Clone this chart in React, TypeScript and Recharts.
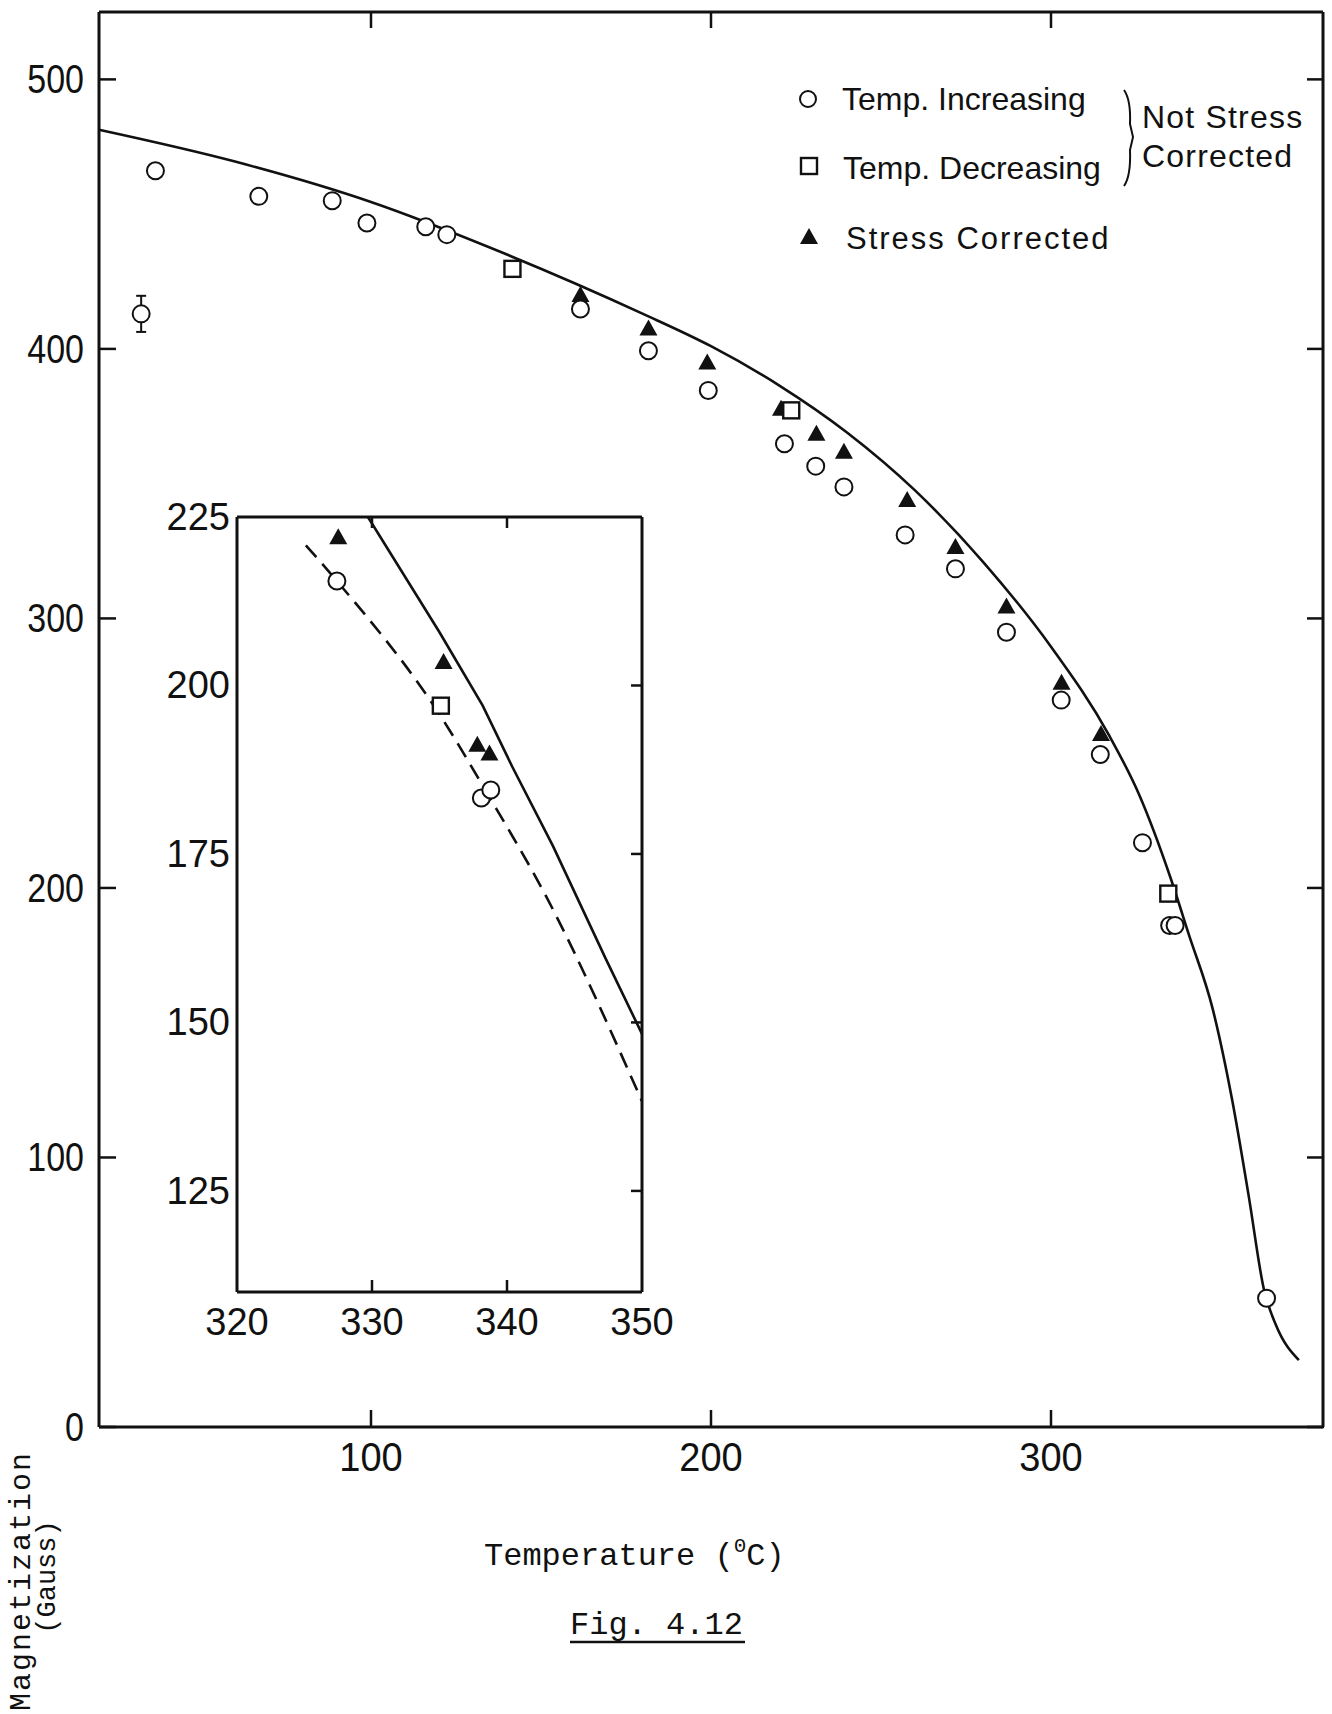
import React from 'react';
import { ComposedChart, Line, Scatter, XAxis, YAxis, ErrorBar } from 'recharts';

// main plot values (Temperature in C, Magnetization in Gauss)
const mainTicksX = [100, 200, 300];
const mainTicksY = [0, 100, 200, 300, 400, 500];

const tempIncreasing = [
  { t: 32.4, m: 413, err: 6.7 },
  { t: 36.6, m: 466.1, err: 0 },
  { t: 67.0, m: 456.6, err: 0 },
  { t: 88.6, m: 455.0, err: 0 },
  { t: 98.8, m: 446.7, err: 0 },
  { t: 116.1, m: 445.3, err: 0 },
  { t: 122.3, m: 442.4, err: 0 },
  { t: 161.6, m: 414.8, err: 0 },
  { t: 181.6, m: 399.3, err: 0 },
  { t: 199.2, m: 384.6, err: 0 },
  { t: 221.6, m: 364.8, err: 0 },
  { t: 230.8, m: 356.5, err: 0 },
  { t: 239.1, m: 348.8, err: 0 },
  { t: 257.1, m: 331.0, err: 0 },
  { t: 271.9, m: 318.4, err: 0 },
  { t: 286.9, m: 294.9, err: 0 },
  { t: 303.0, m: 269.7, err: 0 },
  { t: 314.5, m: 249.5, err: 0 },
  { t: 326.9, m: 216.8, err: 0 },
  { t: 334.9, m: 186.1, err: 0 },
  { t: 336.5, m: 186.1, err: 0 },
  { t: 363.4, m: 47.8, err: 0 },
];

const tempDecreasing = [
  { t: 141.6, m: 429.7 },
  { t: 223.6, m: 377.2 },
  { t: 334.5, m: 197.9 },
];

const stressCorrected = [
  { t: 161.6, m: 420.0 },
  { t: 181.6, m: 407.6 },
  { t: 198.9, m: 395.0 },
  { t: 220.6, m: 377.8 },
  { t: 231.0, m: 368.5 },
  { t: 239.1, m: 361.8 },
  { t: 257.7, m: 343.9 },
  { t: 271.9, m: 326.5 },
  { t: 286.9, m: 304.4 },
  { t: 303.1, m: 276.1 },
  { t: 314.7, m: 257.1 },
];

const fitCurve = [
  { t: 20, m: 481.3 },
  { t: 60, m: 469.5 },
  { t: 100, m: 454.5 },
  { t: 140, m: 435 },
  { t: 180, m: 413 },
  { t: 200, m: 401 },
  { t: 220, m: 386.5 },
  { t: 240, m: 369 },
  { t: 260, m: 347.5 },
  { t: 280, m: 321 },
  { t: 300, m: 289.5 },
  { t: 317.1, m: 256.6 },
  { t: 325.9, m: 234.7 },
  { t: 335.2, m: 203.6 },
  { t: 340.6, m: 182.5 },
  { t: 347.5, m: 155.4 },
  { t: 353.3, m: 121.2 },
  { t: 358.2, m: 85.3 },
  { t: 362.6, m: 51.2 },
  { t: 366.1, m: 38 },
  { t: 372.9, m: 24.8 },
];

// inset (enlarged view near the Curie point)
const insetTicksX = [320, 330, 340, 350];
const insetTicksY = [125, 150, 175, 200, 225];

const insetIncreasing = [
  { t: 327.4, m: 215.5 },
  { t: 338.1, m: 183.3 },
  { t: 338.8, m: 184.5 },
];
const insetDecreasing = [{ t: 335.1, m: 197.0 }];
const insetCorrected = [
  { t: 327.5, m: 222.0 },
  { t: 335.3, m: 203.5 },
  { t: 337.8, m: 191.2 },
  { t: 338.7, m: 189.9 },
];
const insetSolid = [
  { t: 329.7, m: 225 },
  { t: 335.0, m: 207.9 },
  { t: 338.2, m: 197.0 },
  { t: 340.4, m: 187.9 },
  { t: 343.4, m: 176.2 },
  { t: 347.3, m: 159.5 },
  { t: 350, m: 148.3 },
];
const insetDashed = [
  { t: 325.1, m: 220.8 },
  { t: 327.4, m: 215.5 },
  { t: 335.1, m: 195.4 },
  { t: 338.5, m: 184.1 },
  { t: 342.9, m: 168.7 },
  { t: 350, m: 138.3 },
];

const INK = '#111';
const sans = "'Liberation Sans', Arial, sans-serif";
const mono = "'Liberation Mono', 'DejaVu Sans Mono', monospace";

// layout of the two charts
const MAIN = { w: 1332, h: 1714, top: 11, right: 8, left: 9, bottom: 227, yw: 90, xh: 60 };
const MAIN_PW = MAIN.w - MAIN.left - MAIN.yw - MAIN.right;
const MAIN_PH = MAIN.h - MAIN.top - MAIN.bottom - MAIN.xh;
const INSET = { w: 580, h: 880, top: 26, right: 87, left: 7, bottom: 18, yw: 80, xh: 60 };
const INSET_PW = INSET.w - INSET.left - INSET.yw - INSET.right;
const INSET_PH = INSET.h - INSET.top - INSET.bottom - INSET.xh;

const OpenCircle = (p: any) => (
  <circle cx={p.cx} cy={p.cy} r={8.5} fill="#fff" stroke={INK} strokeWidth={2} />
);
const OpenSquare = (p: any) => (
  <rect x={p.cx - 8} y={p.cy - 8} width={16} height={16} fill="#fff" stroke={INK} strokeWidth={2.4} />
);
const Triangle = (p: any) => (
  <polygon
    points={`${p.cx},${p.cy - 9} ${p.cx - 9},${p.cy + 7} ${p.cx + 9},${p.cy + 7}`}
    fill={INK}
  />
);

type TickOpts = {
  len: number; // inward tick on the labelled side
  far: number; // distance to the opposite side of the frame
  farLen: number; // inward tick on the opposite side
  gap: number;
  size: number;
  squeeze?: number;
  lines?: number[];
};

const TickText = ({ x, y, anchor, size, squeeze, children }: any) => (
  <text
    transform={`translate(${x} ${y}) scale(${squeeze ?? 1} 1)`}
    textAnchor={anchor}
    dominantBaseline="central"
    fontFamily={sans}
    fontSize={size}
    fill={INK}
  >
    {children}
  </text>
);

// ticks point inward on both sides of the frame, labels sit outside
const makeTick = (side: 'bottom' | 'left', o: TickOpts) => (p: any) => {
  const { x, y, payload } = p;
  const v = payload.value;
  const showLine = !o.lines || o.lines.includes(v);
  const sw = 2.5;
  if (side === 'bottom') {
    return (
      <g>
        {showLine && o.len > 0 && <line x1={x} y1={y} x2={x} y2={y - o.len} stroke={INK} strokeWidth={sw} />}
        {showLine && o.farLen > 0 && (
          <line x1={x} y1={y - o.far} x2={x} y2={y - o.far + o.farLen} stroke={INK} strokeWidth={sw} />
        )}
        <TickText x={x} y={y + o.gap} anchor="middle" size={o.size} squeeze={o.squeeze}>
          {v}
        </TickText>
      </g>
    );
  }
  return (
    <g>
      {showLine && o.len > 0 && <line x1={x} y1={y} x2={x + o.len} y2={y} stroke={INK} strokeWidth={sw} />}
      {showLine && o.farLen > 0 && (
        <line x1={x + o.far} y1={y} x2={x + o.far - o.farLen} y2={y} stroke={INK} strokeWidth={sw} />
      )}
      <TickText x={x - o.gap} y={y} anchor="end" size={o.size} squeeze={o.squeeze}>
        {v}
      </TickText>
    </g>
  );
};

const frameLine = { stroke: INK, strokeWidth: 3 };

const MainChart = () => (
  <ComposedChart
    width={MAIN.w}
    height={MAIN.h}
    margin={{ top: MAIN.top, right: MAIN.right, left: MAIN.left, bottom: MAIN.bottom }}
  >
    <XAxis
      dataKey="t"
      type="number"
      domain={[20, 380]}
      ticks={mainTicksX}
      interval={0}
      height={MAIN.xh}
      tickSize={0}
      tickMargin={0}
      tickLine={false}
      axisLine={frameLine}
      tick={makeTick('bottom', { len: 17, far: MAIN_PH, farLen: 17, gap: 30, size: 40, squeeze: 0.95 })}
    />
    <XAxis xAxisId="top" orientation="top" type="number" domain={[20, 380]} height={1} tick={false} tickLine={false} axisLine={frameLine} />
    <YAxis
      dataKey="m"
      type="number"
      domain={[0, 525]}
      ticks={mainTicksY}
      interval={0}
      width={MAIN.yw}
      tickSize={0}
      tickMargin={0}
      tickLine={false}
      axisLine={frameLine}
      tick={makeTick('left', { len: 17, far: MAIN_PW, farLen: 17, gap: 15, size: 40, squeeze: 0.85 })}
    />
    <YAxis yAxisId="right" orientation="right" type="number" domain={[0, 525]} width={1} tick={false} tickLine={false} axisLine={frameLine} />
    <Line
      data={fitCurve}
      dataKey="m"
      type="monotone"
      stroke={INK}
      strokeWidth={2.6}
      dot={false}
      activeDot={false}
      isAnimationActive={false}
    />
    <Scatter data={stressCorrected} dataKey="m" shape={Triangle} isAnimationActive={false} />
    <Scatter data={tempIncreasing} dataKey="m" shape={OpenCircle} isAnimationActive={false}>
      <ErrorBar dataKey="err" direction="y" width={5} stroke={INK} strokeWidth={2} />
    </Scatter>
    <Scatter data={tempDecreasing} dataKey="m" shape={OpenSquare} isAnimationActive={false} />
  </ComposedChart>
);

const InsetChart = () => (
  <ComposedChart
    width={INSET.w}
    height={INSET.h}
    margin={{ top: INSET.top, right: INSET.right, left: INSET.left, bottom: INSET.bottom }}
  >
    <XAxis
      dataKey="t"
      type="number"
      domain={[320, 350]}
      ticks={insetTicksX}
      interval={0}
      height={INSET.xh}
      tickSize={0}
      tickMargin={0}
      tickLine={false}
      axisLine={frameLine}
      tick={makeTick('bottom', { len: 12, far: INSET_PH, farLen: 12, gap: 30, size: 38, lines: [330, 340] })}
    />
    <XAxis xAxisId="top" orientation="top" type="number" domain={[320, 350]} height={1} tick={false} tickLine={false} axisLine={frameLine} />
    <YAxis
      dataKey="m"
      type="number"
      domain={[110, 225]}
      ticks={insetTicksY}
      interval={0}
      width={INSET.yw}
      tickSize={0}
      tickMargin={0}
      tickLine={false}
      allowDataOverflow
      axisLine={frameLine}
      tick={makeTick('left', { len: 0, far: INSET_PW, farLen: 12, gap: 7, size: 38, lines: [125, 150, 175, 200] })}
    />
    <YAxis yAxisId="right" orientation="right" type="number" domain={[110, 225]} width={1} tick={false} tickLine={false} axisLine={frameLine} />
    <Line
      data={insetSolid}
      dataKey="m"
      type="linear"
      stroke={INK}
      strokeWidth={2.6}
      dot={false}
      activeDot={false}
      isAnimationActive={false}
    />
    <Line
      data={insetDashed}
      dataKey="m"
      type="monotone"
      stroke={INK}
      strokeWidth={2.6}
      strokeDasharray="16 9"
      dot={false}
      activeDot={false}
      isAnimationActive={false}
    />
    <Scatter data={insetCorrected} dataKey="m" shape={Triangle} isAnimationActive={false} />
    <Scatter data={insetIncreasing} dataKey="m" shape={OpenCircle} isAnimationActive={false} />
    <Scatter data={insetDecreasing} dataKey="m" shape={OpenSquare} isAnimationActive={false} />
  </ComposedChart>
);

const Annotations = () => (
  <svg width={1332} height={1714} style={{ position: 'absolute', left: 0, top: 0, pointerEvents: 'none' }}>
    {/* legend */}
    <circle cx={808} cy={99} r={8} fill="none" stroke={INK} strokeWidth={2} />
    <text x={842} y={110} fontFamily={sans} fontSize={32} fill={INK}>Temp. Increasing</text>
    <rect x={801} y={158} width={16} height={16} fill="none" stroke={INK} strokeWidth={2.4} />
    <text x={843} y={179} fontFamily={sans} fontSize={32} fill={INK}>Temp. Decreasing</text>
    <polygon points="809,228 800,244 818,244" fill={INK} />
    <text x={846} y={249} fontFamily={sans} fontSize={31} letterSpacing={2} fill={INK}>Stress Corrected</text>
    <path d="M1124 90 Q1131 100 1130 124 L1133 137 L1130 150 Q1131 176 1124 186" fill="none" stroke={INK} strokeWidth={2} />
    <text x={1142} y={128} fontFamily={sans} fontSize={32} letterSpacing={1.2} fill={INK}>Not Stress</text>
    <text x={1142} y={167} fontFamily={sans} fontSize={32} letterSpacing={1.2} fill={INK}>Corrected</text>

    {/* axis titles */}
    <text
      x={0}
      y={0}
      transform="translate(22 1581) rotate(-90)"
      textAnchor="middle"
      dominantBaseline="central"
      fontFamily={mono}
      fontSize={30}
      letterSpacing={2}
      fill={INK}
    >
      Magnetization
    </text>
    <text
      x={0}
      y={0}
      transform="translate(48 1577) rotate(-90)"
      textAnchor="middle"
      dominantBaseline="central"
      fontFamily={mono}
      fontSize={27}
      fill={INK}
    >
      (Gauss)
    </text>
    <text x={484} y={1565} fontFamily={mono} fontSize={32} fill={INK}>
      Temperature (
      <tspan fontSize={21} dy={-13}>0</tspan>
      <tspan dy={13}>C)</tspan>
    </text>
    <text x={570} y={1634} fontFamily={mono} fontSize={32} fill={INK}>
      Fig. 4.12
    </text>
    <line x1={570} y1={1642} x2={745} y2={1642} stroke={INK} strokeWidth={2.5} />
  </svg>
);

export default function App() {
  return (
    <div style={{ position: 'absolute', left: 0, top: 0, width: 1332, height: 1714, background: '#fff' }}>
      <div style={{ position: 'absolute', left: 0, top: 0 }}>
        <MainChart />
      </div>
      <div style={{ position: 'absolute', left: 150, top: 490 }}>
        <InsetChart />
      </div>
      <Annotations />
    </div>
  );
}
